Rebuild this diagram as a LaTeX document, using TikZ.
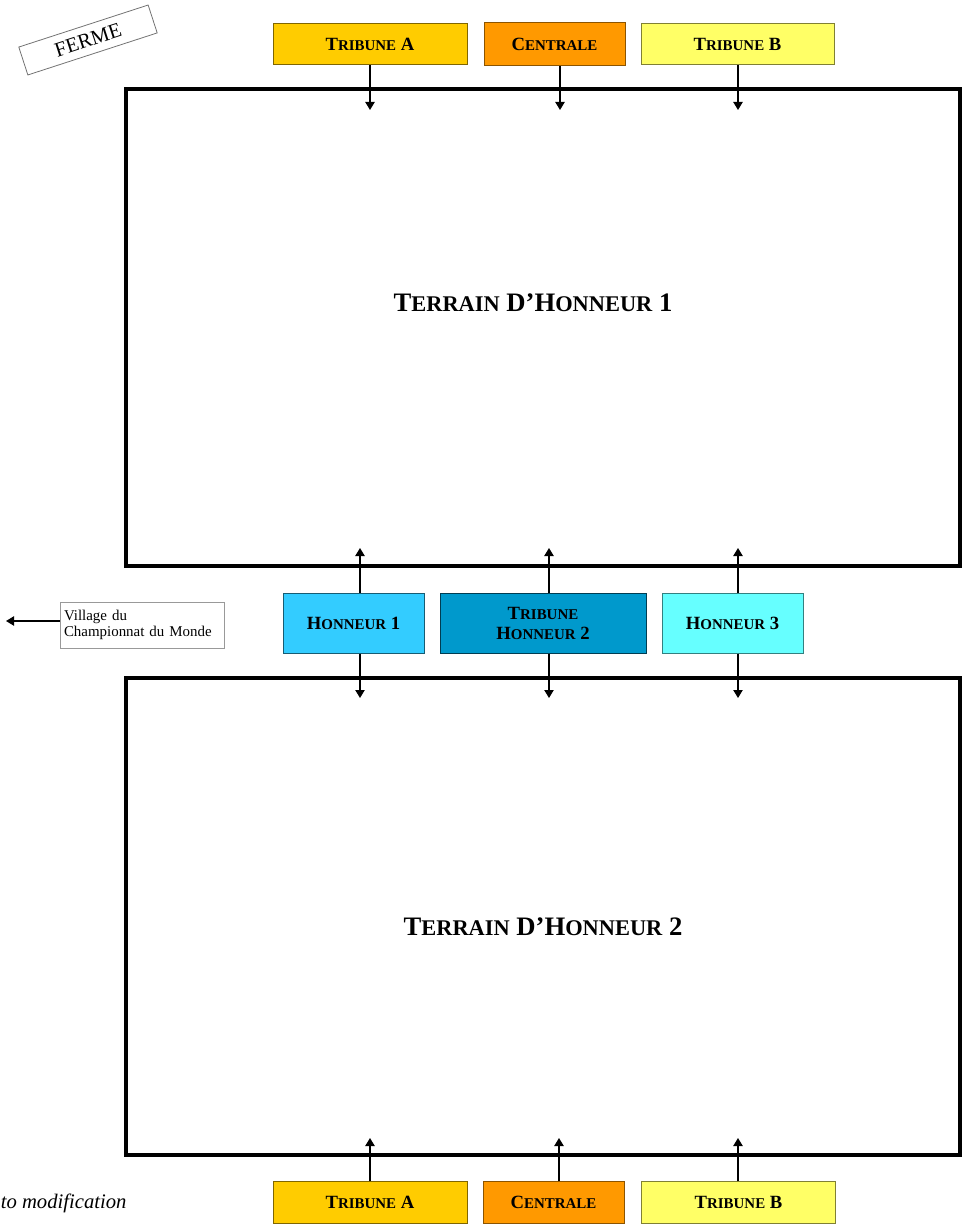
\documentclass[tikz,border=0pt]{standalone}
\usepackage{fontspec}
\setmainfont{Liberation Serif}
\usepackage{scalefnt}
\usetikzlibrary{arrows.meta}

\newcommand{\pc}[1]{{\scalefont{0.8}#1}}
\newcommand{\pcg}[1]{{\scalefont{0.84}#1}}

\definecolor{jauneA}{HTML}{FFCC00}
\definecolor{orangeC}{HTML}{FF9900}
\definecolor{jauneB}{HTML}{FFFF66}
\definecolor{bleuH}{HTML}{33CCFF}
\definecolor{bleuT}{HTML}{0099CC}
\definecolor{cyanH}{HTML}{66FFFF}

\tikzset{every picture/.style={line width=0.75pt}}
\tikzset{
  box/.style={draw, inner sep=0pt, align=center, font=\bfseries\fontsize{14}{15}\selectfont},
  trib/.style={box, minimum width=145.5pt, minimum height=31pt},
  hon/.style={box, minimum width=105.75pt, minimum height=45pt},
  terrain/.style={draw, line width=2.5pt, minimum width=625.5pt, minimum height=357.75pt},
  titre/.style={font=\bfseries\fontsize{20}{22}\selectfont},
  fleche/.style={line width=0.9pt, -{Triangle[length=6pt,width=7pt]}}
}

\begin{document}
\begin{tikzpicture}[x=0.75pt,y=0.75pt,yscale=-1,xscale=1]
		\useasboundingbox (0,0) rectangle (968,1226);
		
		%Farm label
		\node [draw=black!55, line width=0.6pt, rotate=18, minimum width=102pt, minimum height=22pt, inner sep=0pt, font=\fontsize{15.5}{17}\selectfont] (ferme) at (88,40) {FERME};
		
		%Pitches
		\node [terrain] (rt1) at (543,327.5) {};
		\node [terrain] (rt2) at (543,916.5) {};
		\node [titre] (nt1) at (533,303) {T\pcg{ERRAIN} D'H\pcg{ONNEUR} 1};
		\node [titre] (nt2) at (543,927) {T\pcg{ERRAIN} D'H\pcg{ONNEUR} 2};
		
		%Top stands
		\node [trib, fill=jauneA, draw=jauneA!50!black] (tA) at (370,44) {T\pc{RIBUNE} A};
		\node [trib, fill=orangeC, draw=orangeC!55!black, minimum width=105.75pt, minimum height=32.25pt] (tC) at (554.5,44.5) {C\pc{ENTRALE}};
		\node [trib, fill=jauneB, draw=jauneB!50!black, minimum width=144.75pt] (tB) at (737.5,44) {T\pc{RIBUNE} B};
		
		%Middle stands
		\node [hon, fill=bleuH, draw=bleuH!45!black] (h1) at (353.5,623) {H\pc{ONNEUR} 1};
		\node [hon, fill=bleuT, draw=bleuT!40!black, minimum width=154.5pt] (h2) at (543,623) {T\pc{RIBUNE}\\H\pc{ONNEUR} 2};
		\node [hon, fill=cyanH, draw=cyanH!50!black] (h3) at (732.5,623) {H\pc{ONNEUR} 3};
		
		%Bottom stands
		\node [trib, fill=jauneA, draw=jauneA!50!black] (bA) at (370,1202.5) {T\pc{RIBUNE} A};
		\node [trib, fill=orangeC, draw=orangeC!55!black, minimum width=105.75pt] (bC) at (553.5,1202.5) {C\pc{ENTRALE}};
		\node [trib, fill=jauneB, draw=jauneB!50!black] (bB) at (738.5,1202.5) {T\pc{RIBUNE} B};
		
		%Village
		\node [draw=black!40, line width=0.5pt, minimum width=123pt, minimum height=34.5pt, text width=117pt, align=left, inner sep=3pt, font=\fontsize{11.2}{11.5}\selectfont] (vil) at (142,625) {Village du\\Championnat du Monde};
		
		%Note
		\node [anchor=base east, inner sep=0pt, font=\itshape\fontsize{15.5}{17}\selectfont] (note) at (127,1208) {to modification};
		
		%Arrow ends
		\coordinate (a1) at (370,110);
		\coordinate (a2) at (560,110);
		\coordinate (a3) at (738,110);
		\coordinate (u1) at (360,548);
		\coordinate (u2) at (549,548);
		\coordinate (u3) at (738,548);
		\coordinate (d1) at (360,698);
		\coordinate (d2) at (549,698);
		\coordinate (d3) at (738,698);
		\coordinate (b1) at (370,1138);
		\coordinate (b2) at (559,1138);
		\coordinate (b3) at (738,1138);
		\coordinate (vfin) at (6,621);
		
		%Arrows
		\draw [fleche] (tA.south -| a1) -- (a1);
		\draw [fleche] (tC.south -| a2) -- (a2);
		\draw [fleche] (tB.south -| a3) -- (a3);
		\draw [fleche] (h1.north -| u1) -- (u1);
		\draw [fleche] (h2.north -| u2) -- (u2);
		\draw [fleche] (h3.north -| u3) -- (u3);
		\draw [fleche] (h1.south -| d1) -- (d1);
		\draw [fleche] (h2.south -| d2) -- (d2);
		\draw [fleche] (h3.south -| d3) -- (d3);
		\draw [fleche] (bA.north -| b1) -- (b1);
		\draw [fleche] (bC.north -| b2) -- (b2);
		\draw [fleche] (bB.north -| b3) -- (b3);
		\draw [fleche] (vil.west |- vfin) -- (vfin);
		
	\end{tikzpicture}
\end{document}
